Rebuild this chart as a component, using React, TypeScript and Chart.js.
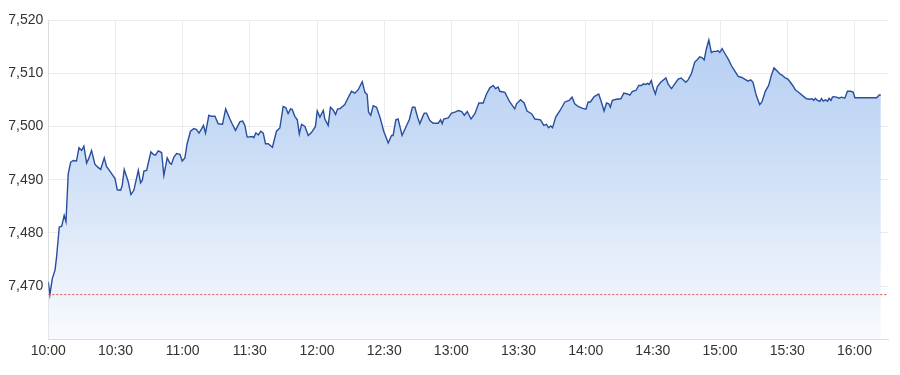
import React, { useEffect, useRef } from "react";
import { Chart, registerables } from "chart.js";

Chart.register(...registerables);

// minutes after 10:00
const times = [
  0, 0.7, 1.8, 3, 3.7, 4.9, 6, 7.1, 7.9, 8.9, 10, 11.2, 12.6, 13.7, 14.9, 15.9, 17.1, 18, 19.3, 20.8,
  22, 23.4, 25, 26, 27.5, 29.8, 30.8, 32.3, 33, 33.9, 35.7, 36.9, 38.2, 40.2, 41.2, 42, 42.7, 43.9, 45.8, 46.9,
  47.9, 49.1, 50.6, 51.6, 53.1, 54.3, 55, 56.1, 57.3, 58.8, 59.8, 61, 62, 63.5, 65, 66.2, 67.3, 68.5, 69.3, 70.2,
  71.7, 72.9, 74.4, 75.9, 77.8, 79.2, 81.1, 82.1, 83.6, 85.6, 86.8, 87.8, 88.8, 91.1, 91.8, 92.7, 93.8, 94.9, 96, 97,
  98.2, 100.1, 101.9, 103.4, 104.9, 106.1, 107.1, 108.2, 108.9, 110.1, 111.2, 112.1,
  113.1, 114.6, 116.1, 117.6, 119.3, 120.1, 121.3, 122.8, 123.5, 125, 126, 127.2, 128.3, 129.2, 130.2, 132.4, 133.9,
  135.4, 136.9, 138.4, 140.2, 141.4, 142.4, 143, 144, 145.1, 146.6, 148.1, 149.8, 151.8, 153.3, 154, 155.2, 156.2,
  158, 159.5, 161.2, 162.6, 163.7, 164.9, 165.9, 167.1, 167.9, 168.9, 170.4, 171.9, 174.1, 175.2, 175.9, 176.6,
  178.6, 180.1, 181.6, 183.1, 184.6, 185.8, 187.1, 188.8, 190.5, 192.3, 194.2, 195.7, 197.2, 198.7, 199.7, 200.9,
  201.6, 203.9, 206.1, 208.3, 209.1, 210.9, 212.5, 213.8, 215.8, 217.3, 219.8, 221.3, 222.5, 223.4, 224.4, 225.2,
  226.6, 228.4, 230.7, 232.6, 233.9, 235.1, 236.6, 238.6, 240.1, 241.1, 242.1, 243.8, 245.8, 247, 248.2, 249.3,
  250.3, 251, 251.9, 253.7, 255.7, 257, 258.6, 259.7, 260.9, 262.4, 263.7, 264.9, 265.7, 266.7, 267.6, 268.3,
  269.3, 270.1, 271.1, 272, 273.5, 275.8, 276.8, 278.3, 279.8, 281.3, 282.7, 283.5, 284.7, 285.7, 287.2, 288.7,
  289.7, 290.9, 292.1, 292.9, 293.9, 295, 296.1, 297.2, 298.4, 299.1, 299.9, 300.9, 302.1, 303.6, 305.1, 306.6,
  308.1, 309.5, 311, 312.5, 313.7, 314.7, 316.2, 317.7, 318.7, 320.2, 321.7, 322.9, 324.1, 325.5, 326.6, 327.8,
  329.1, 330.3, 331.4, 332.6, 333.6, 335.6, 337.1, 338.6, 340.1, 341.1, 341.9, 342.5, 343.5, 344.6, 345.3, 346.1,
  347.1, 348, 348.7, 349.5, 350.2, 350.8, 352, 353.2, 354.2, 355.7, 356.9, 358.4, 359.5, 360.2, 369.9, 371.1, 371.8,
];

const values = [
  7470.8, 7468.4, 7471.4, 7473, 7475.5, 7481.1, 7481.25, 7483.3, 7482.1, 7491.1, 7493.3, 7493.6, 7493.5, 7496, 7495.5, 7496.3, 7493.1, 7493.9, 7495.5, 7492.9,
  7492.4, 7491.9, 7494.1, 7492.5, 7491.6, 7490.2, 7488.1, 7488, 7488.9, 7491.9, 7489.6, 7487.2, 7488, 7491.75, 7489.4, 7489.9, 7491.6, 7491.75, 7495.2, 7494.75,
  7494.6, 7495.4, 7495.1, 7490.8, 7494.1, 7493.1, 7492.9, 7494.25, 7494.9, 7494.75, 7493.5, 7494.1, 7496.75, 7499.1, 7499.6, 7499.4, 7498.75, 7499.6, 7500.2, 7498.75,
  7502.1, 7501.9, 7501.9, 7500.5, 7500.4, 7503.3, 7501.4, 7500.5, 7499.25, 7500.9, 7501, 7500.2, 7498, 7498.1, 7497.9, 7498.8, 7498.4, 7499.1, 7498.75, 7496.75,
  7496.75, 7496.1, 7499.1, 7499.7, 7503.75, 7503.5, 7502.4, 7503.3, 7503.2, 7501.9, 7501.25, 7498.6,
  7500.4, 7500, 7498.3, 7498.9, 7500, 7502.9, 7501.75, 7503, 7501.4, 7500.2, 7503.6, 7503.1, 7502.25, 7503.3, 7503.3, 7504.1, 7505.4,
  7506.6, 7506.25, 7506.9, 7508.4, 7506.4, 7506, 7502.7, 7502.1, 7503.9, 7503.6, 7501.75, 7499.1, 7496.9, 7498.3, 7498.3, 7501.25, 7501.4,
  7498.3, 7499.7, 7501.25, 7503.6, 7503.6, 7501.75, 7500.5, 7501.75, 7502.5, 7502.5, 7501.1, 7500.6, 7500.6, 7501.25, 7500.5, 7501.4,
  7501.6, 7502.5, 7502.7, 7503, 7502.8, 7502.1, 7502.8, 7501.4, 7502.4, 7504.4, 7504.4, 7506.1, 7507.25, 7507.7, 7507.1, 7507.4,
  7506.6, 7506.4, 7504.6, 7503.3, 7504.25, 7505, 7504.4, 7502.9, 7502.4, 7501.4, 7501.25, 7500.2, 7500.4, 7499.75, 7500.1, 7499.75,
  7501.75, 7502.9, 7504.6, 7504.9, 7505.5, 7504.25, 7503.75, 7503.4, 7503.25, 7504.6, 7504.6, 7505.6, 7506.1, 7504.6, 7502.9, 7504.4,
  7504.25, 7503.6, 7504.9, 7505.1, 7505.2, 7506.25, 7506.1, 7505.9, 7506.6, 7506.75, 7507.7, 7507.7, 7508, 7507.9, 7508.1, 7507.9,
  7508.6, 7507.25, 7506.1, 7507.5, 7508.3, 7509.1, 7508, 7507.1, 7508, 7508.9, 7509.1, 7508.75, 7508.3, 7508.75, 7509.9, 7512.1,
  7512.5, 7513.1, 7512.9, 7512.5, 7514.6, 7516.25, 7513.9, 7514.1, 7514.1, 7514.25, 7513.9, 7514.6, 7513.75, 7512.7, 7511.4, 7510.4,
  7509.4, 7509.25, 7508.9, 7508.5, 7508.75, 7508.3, 7505.8, 7504.1, 7504.6, 7506.6, 7507.7, 7509.6, 7511, 7510.4, 7509.9, 7509.6,
  7509.1, 7508.9, 7508.3, 7507.6, 7506.9, 7506.25, 7505.7, 7505.2, 7505.1, 7505.2, 7504.9, 7505.3, 7504.9, 7504.7, 7505.25, 7504.75,
  7505, 7504.75, 7505.3, 7504.9, 7505.5, 7505.6, 7505.5, 7505.3, 7505.5, 7505.3, 7506.6, 7506.6, 7506.4, 7505.4, 7505.4, 7505.9, 7505.9,
];

const previousClose = 7468.4;
const xTickLabels = ["10:00", "10:30", "11:00", "11:30", "12:00", "12:30", "13:00", "13:30", "14:00", "14:30", "15:00", "15:30", "16:00"];
const xMin = 0;
const xMax = 375;
const yMin = 7460;
const yMax = 7520;

export default function App() {
  const ref = useRef<HTMLCanvasElement | null>(null);

  useEffect(() => {
    const canvas = ref.current;
    if (!canvas) return;
    const font = { family: "'Liberation Sans', Arial, sans-serif", size: 14 };
    const chart = new Chart(canvas, {
      type: "line",
      data: {
        datasets: [
          {
            data: [
              { x: xMin, y: previousClose },
              { x: xMax, y: previousClose },
            ],
            borderColor: "#e8463c",
            borderWidth: 1,
            borderDash: [2, 2],
            pointRadius: 0,
            fill: false,
          },
          {
            data: times.map((t, i) => ({ x: t, y: values[i] })),
            borderColor: "#2a4e9e",
            borderWidth: 1.4,
            pointRadius: 0,
            tension: 0,
            fill: "start",
            backgroundColor: (ctx: any) => {
              const area = ctx.chart.chartArea;
              if (!area) return "rgba(185,210,243,0.8)";
              const g = ctx.chart.ctx.createLinearGradient(0, area.top, 0, area.bottom);
              g.addColorStop(0, "#b3cdf1");
              g.addColorStop(0.35, "#c6daf5");
              g.addColorStop(1, "#f8fafe");
              return g;
            },
          },
        ],
      },
      options: {
        animation: false,
        responsive: false,
        devicePixelRatio: 1,
        layout: { padding: { left: 0, right: 12, top: 20, bottom: 0 } },
        plugins: { legend: { display: false }, tooltip: { enabled: false } },
        scales: {
          x: {
            type: "linear",
            min: xMin,
            max: xMax,
            afterFit: (s: any) => {
              s.height = 35.7;
            },
            ticks: {
              stepSize: 30,
              includeBounds: false,
              padding: 3,
              color: "#333",
              font,
              maxRotation: 0,
              autoSkip: false,
              callback: (v: any) => {
                const i = Math.round(Number(v) / 30);
                return Number(v) % 30 === 0 && xTickLabels[i] ? xTickLabels[i] : null;
              },
            },
            grid: { color: "#ececec", drawTicks: false },
            border: { color: "#dcdcdc" },
          },
          y: {
            min: yMin,
            max: yMax,
            afterFit: (s: any) => {
              s.width = 48.3;
            },
            ticks: {
              stepSize: 10,
              padding: 5,
              color: "#333",
              font,
              callback: (v: any) => (Number(v) === yMin ? null : Number(v).toLocaleString("en-US")),
            },
            grid: { color: "#ececec", drawTicks: false },
            border: { color: "#dcdcdc" },
          },
        },
      },
    });
    return () => chart.destroy();
  }, []);

  return (
    <div style={{ position: "fixed", left: 0, top: 0, width: 900, height: 375, background: "#fff" }}>
      <canvas ref={ref} width={900} height={375} />
    </div>
  );
}
